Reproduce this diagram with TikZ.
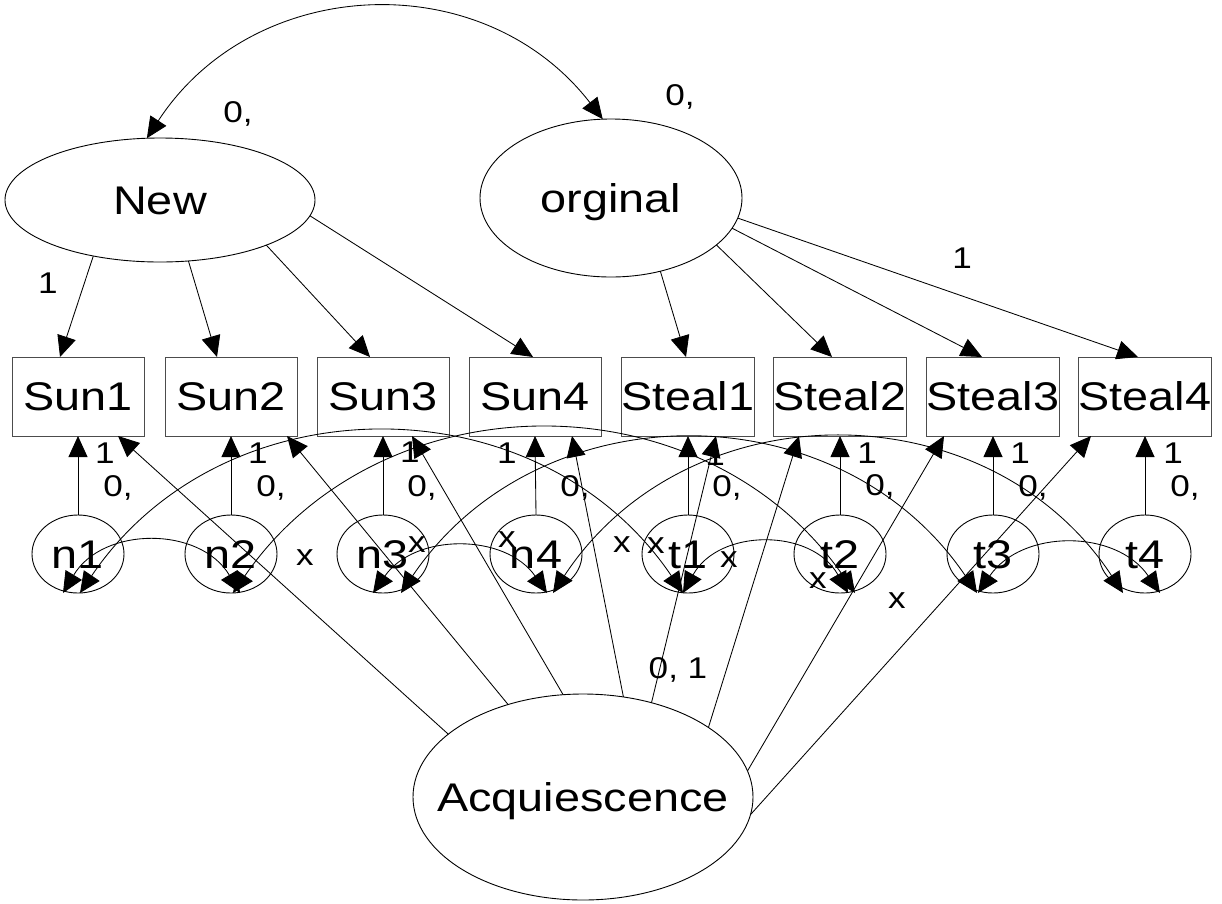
\documentclass[tikz,border=0pt]{standalone}
\usepackage{fontspec}
\setmainfont{Liberation Sans}[FakeStretch=1.17]
\usetikzlibrary{arrows.meta,shapes.geometric}

\tikzset{
  varname/.style={font=\fontsize{40}{42}\selectfont, text height=28pt, text depth=0pt},
  latent/.style={ellipse, draw, line width=0.9pt, inner sep=0pt, outer sep=0pt, varname},
  obs/.style={rectangle, draw=black!70, line width=0.9pt, minimum width=132pt,
    minimum height=79pt, inner sep=0pt, outer sep=0pt, varname},
  err/.style={latent, minimum width=92pt, minimum height=78pt},
  reg/.style={line width=0.85pt, -{Triangle[length=21pt,width=19pt]}},
  cov/.style={line width=0.85pt, {Triangle[length=21pt,width=19pt]}-{Triangle[length=21pt,width=19pt]}},
  lbl/.style={inner sep=0pt, font=\fontsize{30}{32}\selectfont},
}

\begin{document}
\begin{tikzpicture}[x=1pt,y=-1pt]
\useasboundingbox (0,0) rectangle (1222,903);

% factors (text held in zero-width boxes so the ellipse keeps its set size)
\node[latent, minimum width=310pt, minimum height=124pt] (new)  at (160,200) {\makebox[0pt]{New}};
\node[latent, minimum width=262pt, minimum height=158pt] (orig) at (611,198) {\makebox[0pt]{orginal}};
\node[latent, minimum width=340pt, minimum height=206pt] (acq)  at (583,797) {\makebox[0pt]{Acquiescence}};

% observed items
\node[obs] (sun1)   at (78,396.5)   {Sun1};
\node[obs] (sun2)   at (231,396.5)  {Sun2};
\node[obs] (sun3)   at (383,396.5)  {Sun3};
\node[obs] (sun4)   at (535,396.5)  {Sun4};
\node[obs] (steal1) at (688,396.5)  {Steal1};
\node[obs] (steal2) at (840,396.5)  {Steal2};
\node[obs] (steal3) at (993,396.5)  {Steal3};
\node[obs] (steal4) at (1145,396.5) {Steal4};

% error terms
\node[err] (n1) at (78,554)   {\makebox[0pt]{n1}};
\node[err] (n2) at (231,554)  {\makebox[0pt]{n2}};
\node[err] (n3) at (383,554)  {\makebox[0pt]{n3}};
\node[err] (n4) at (536,554)  {\makebox[0pt]{n4}};
\node[err] (t1) at (688,554)  {\makebox[0pt]{t1}};
\node[err] (t2) at (840,554)  {\makebox[0pt]{t2}};
\node[err] (t3) at (993,554)  {\makebox[0pt]{t3}};
\node[err] (t4) at (1145,554) {\makebox[0pt]{t4}};

% parameter labels
\node[lbl] (lnew)  at (238,114) {0,};
\node[lbl] (lorig) at (680,97)  {0,};
\node[lbl] (lw1)   at (48,283)  {1};
\node[lbl] (lw2)   at (962,258) {1};
\node[lbl] (lacq)  at (678,670) {0, 1};

\node[lbl] (a1) at (105,453)  {1};  \node[lbl] (v1) at (118,488)  {0,};
\node[lbl] (a2) at (258,453)  {1};  \node[lbl] (v2) at (271,488)  {0,};
\node[lbl] (a3) at (410,452)  {1};  \node[lbl] (v3) at (422,488)  {0,};
\node[lbl] (a4) at (507,453)  {1};  \node[lbl] (v4) at (575,488)  {0,};
\node[lbl] (a5) at (715,455)  {1};  \node[lbl] (v5) at (727,488)  {0,};
\node[lbl] (a6) at (867,453)  {1};  \node[lbl] (v6) at (880,487)  {0,};
\node[lbl] (a7) at (1020,453) {1};  \node[lbl] (v7) at (1033,488) {0,};
\node[lbl] (a8) at (1173,453) {1};  \node[lbl] (v8) at (1185,488) {0,};

\node[lbl] (x1) at (305,558) {x};
\node[lbl] (x2) at (417,545) {x};
\node[lbl] (x3) at (507,540) {x};
\node[lbl] (x4) at (622,545) {x};
\node[lbl] (x5) at (656,546) {x};
\node[lbl] (x6) at (729,560) {x};
\node[lbl] (x7) at (818,581) {x};
\node[lbl] (x8) at (897,601) {x};

% factor covariance
\draw[cov] (new.102) .. controls +(107,-164) and +(-120,-155) .. (orig.96);

% loadings of New
\draw[reg] (new.-140) -- ([xshift=-18pt]sun1.north);
\draw[reg] (new.-65)  -- ([xshift=-14pt]sun2.north);
\draw[reg] (new.-23)  -- ([xshift=-13pt]sun3.north);
\draw[reg] (new.-6.5) -- ([xshift=-2pt]sun4.north);

% loadings of orginal
\draw[reg] (orig.-56.5) -- ([xshift=-2pt]steal1.north);
\draw[reg] (orig.-24.6) -- ([xshift=-8pt]steal2.north);
\draw[reg] (orig.-14.3) -- ([xshift=-11pt]steal3.north);
\draw[reg] (orig.-9.8)  -- ([xshift=-7pt]steal4.north);

% error paths
\foreach \e/\v in {n1/sun1,n2/sun2,n3/sun3,n4/sun4,t1/steal1,t2/steal2,t3/steal3,t4/steal4}
  \draw[reg] (\e.north) -- (\v.south);

% loadings of Acquiescence
\draw[reg] (acq.155.1) -- ([xshift=40pt]sun1.south);
\draw[reg] (acq.129.6) -- ([xshift=56pt]sun2.south);
\draw[reg] (acq.101.1) -- ([xshift=29pt]sun3.south);
\draw[reg] (acq.68.7)  -- ([xshift=37pt]sun4.south);
\draw[reg] (acq.54.9)  -- ([xshift=28pt]steal1.south);
\draw[reg] (acq.29.2)  -- ([xshift=-41pt]steal2.south);
\draw[reg] (acq.9.7)   -- ([xshift=-49pt]steal3.south);
\draw[reg] (acq.-6.2)  -- ([xshift=-54pt]steal4.south);

% error covariances between neighbours
\draw[cov] ([xshift=-15pt]n1.south) .. controls +(40,-67) and +(-40,-67) .. ([xshift=9pt]n2.south);
\draw[cov] ([xshift=-10pt]n3.south) .. controls +(42,-60) and +(-42,-60) .. ([xshift=11pt]n4.south);
\draw[cov] ([xshift=-5pt]t1.south)  .. controls +(36,-65) and +(-36,-65) .. ([xshift=8pt]t2.south);
\draw[cov] ([xshift=-15pt]t3.south) .. controls +(44,-64) and +(-44,-64) .. ([xshift=15pt]t4.south);

% error covariances between matching items
\draw[cov] ([xshift=2pt]n1.south)  .. controls +(144,-213) and +(-144,-213) .. ([xshift=-5pt]t1.south);
\draw[cov] ([xshift=2pt]n2.south)  .. controls +(150,-217) and +(-150,-217) .. ([xshift=15pt]t2.south);
\draw[cov] ([xshift=18pt]n3.south) .. controls +(138,-204) and +(-138,-204) .. ([xshift=-16pt]t3.south);
\draw[cov] ([xshift=17pt]n4.south) .. controls +(135,-205) and +(-135,-205) .. ([xshift=-22pt]t4.south);
\end{tikzpicture}
\end{document}
